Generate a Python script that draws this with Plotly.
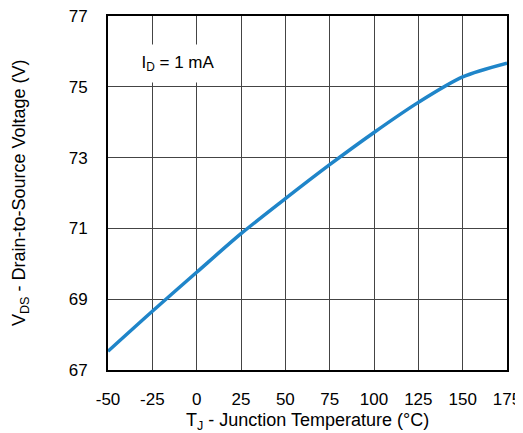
import plotly.graph_objects as go

temps = [-50, -25, 0, 25, 50, 75, 100, 125, 150, 175]
vds = [67.53, 68.66, 69.76, 70.85, 71.84, 72.80, 73.71, 74.56, 75.28, 75.67]

x_ticks = [-50, -25, 0, 25, 50, 75, 100, 125, 150, 175]
y_ticks = [67, 69, 71, 73, 75, 77]

font = "Liberation Sans, Arial, sans-serif"
tick_size = 17
title_size = 18

fig = go.Figure()
fig.add_trace(go.Scatter(
    x=temps, y=vds, mode="lines",
    line=dict(color="#1f85c9", width=3.5, shape="spline", smoothing=0.8),
    showlegend=False, hoverinfo="skip",
))

axis_common = dict(
    showgrid=True, gridcolor="#444444", gridwidth=1,
    showline=True, linecolor="black", linewidth=2, mirror=True,
    zeroline=False, ticks="", automargin=False, ticklabeloverflow="allow",
    tickfont=dict(family=font, size=tick_size, color="black"),
)

fig.update_xaxes(
    range=[-50, 175], tickvals=x_ticks, ticktext=[str(v) for v in x_ticks],
    ticklabelstandoff=13,
    **axis_common,
)
fig.update_yaxes(
    range=[67, 77], tickvals=y_ticks, ticktext=[str(v) for v in y_ticks],
    ticklabelstandoff=15,
    **axis_common,
)

fig.add_annotation(
    x=-10.5, y=75.66, xref="x", yref="y",
    text="I<sub>D</sub> = 1 mA", showarrow=False,
    font=dict(family=font, size=tick_size, color="black"),
    bgcolor="white", width=88, height=35,
)
fig.add_annotation(
    x=0.5, y=(370 - 421) / 354, xref="paper", yref="paper",
    xanchor="center", yanchor="middle",
    text="T<sub>J</sub> - Junction Temperature (°C)", showarrow=False,
    font=dict(family=font, size=title_size, color="black"),
)
fig.add_annotation(
    x=(20 - 108) / 399, y=0.5, xref="paper", yref="paper",
    xanchor="center", yanchor="middle", textangle=-90,
    text="V<sub>DS</sub> - Drain-to-Source Voltage (V)", showarrow=False,
    font=dict(family=font, size=title_size, color="black"),
)

# page body adds a small offset, so margins are shifted to keep the plot area in place
fig.update_layout(
    width=523, height=433,
    margin=dict(l=100, r=24, t=8, b=71),
    paper_bgcolor="white", plot_bgcolor="white",
)

fig.write_html("out.html")
